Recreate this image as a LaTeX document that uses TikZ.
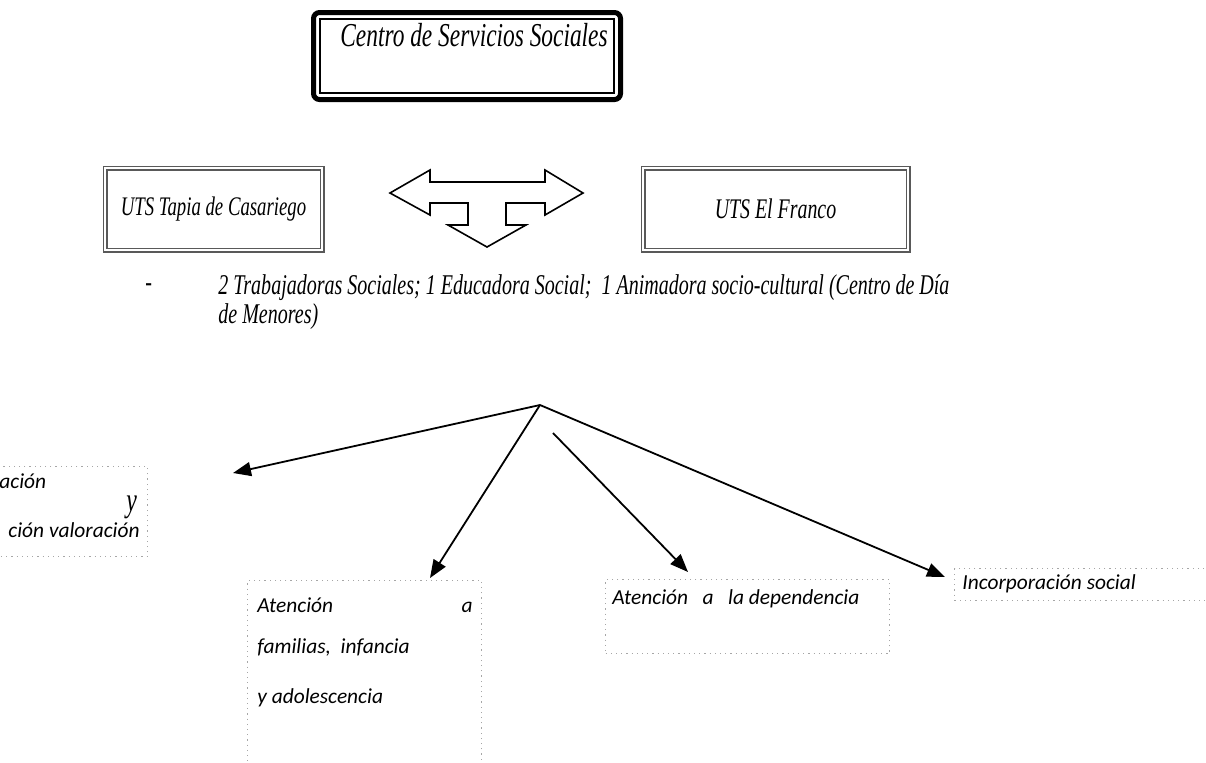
\documentclass[tikz,border=0pt]{standalone}
\usepackage{fontspec}
\setmainfont{Liberation Serif}
\newfontfamily\narrowserif[FakeStretch=0.7]{Liberation Serif}
\newfontfamily\boxfont{Carlito}
\usetikzlibrary{positioning,arrows.meta}

\tikzset{
  dotbox/.style={draw=gray!70, dotted, line width=0.6pt, inner sep=0pt, anchor=north west},
  boxlabel/.style={font=\boxfont\itshape\fontsize{10.7}{12}\selectfont, anchor=base west, inner sep=0pt},
  utsbox/.style={draw=black!65, double=white, double distance=1.3pt, line width=0.6pt,
    font=\narrowserif\itshape\fontsize{13.4}{15}\selectfont, inner sep=0pt},
  staff/.style={font=\narrowserif\itshape\fontsize{14.3}{16}\selectfont, anchor=base west, inner sep=0pt},
  branch/.style={-{Triangle[length=9pt,width=7pt]}, line width=0.9pt},
}

\begin{document}
\begin{tikzpicture}[x=0.5pt, y=-0.5pt]

\useasboundingbox (0,0) rectangle (1206,762);
\clip (0,0) rectangle (1206,762);
% centre
\node [draw, line width=2.5pt, rounded corners=3pt, minimum width=153.5pt, minimum height=43.5pt] (centre) at (467,56) {};
\node [draw, line width=0.7pt, minimum width=147pt, minimum height=37pt] (centrein) at (467,56) {};
\node [font=\narrowserif\itshape\fontsize{16.7}{18}\selectfont, anchor=base west, inner sep=0pt] (centretxt) at (340,46) {Centro de Servicios Sociales};
% UTS
\node [utsbox, minimum width=108.5pt, minimum height=41pt] (tapia) at (213.5,209) {UTS Tapia de Casariego};
\node [utsbox, minimum width=132.5pt, minimum height=41pt, font=\narrowserif\itshape\fontsize{14.2}{15}\selectfont] (franco) at (775.5,209) {UTS El Franco};
% triple arrow
\draw [line width=0.8pt, line join=miter] (390,193) -- (430,170) -- (430,182) -- (545,182) -- (545,170) -- (583,193)
  -- (545,215) -- (545,203) -- (506,203) -- (506,225) -- (526,225) -- (487,247) -- (448,225) -- (468,225)
  -- (468,203) -- (430,203) -- (430,215) -- cycle;
% staff
\node [staff] (dash) at (145,291) {-};
\node [staff] (staffa) at (218,294) {2 Trabajadoras Sociales; 1 Educadora Social;\ \ 1 Animadora socio-cultural (Centro de Día};
\node [staff] (staffb) at (218,323) {de Menores)};
% arrows
\coordinate (root) at (540,405);
\coordinate (tipa) at (233,473);
\coordinate (tipb) at (430,578);
\coordinate (startc) at (553,433);
\coordinate (tipc) at (688,572);
\coordinate (tipd) at (945,577);
\draw [branch] (root) -- (tipa);
\draw [branch] (root) -- (tipb);
\draw [branch] (startc) -- (tipc);
\draw [branch] (root) -- (tipd);
% boxes
\node [dotbox, minimum width=78.5pt, minimum height=45pt] (infobox) at (-10,466) {};
\node [dotbox, minimum width=117pt, minimum height=100pt] (famibox) at (247,580) {};
\node [dotbox, minimum width=142pt, minimum height=37pt] (depbox) at (605,579) {};
\node [dotbox, minimum width=135pt, minimum height=16pt] (incbox) at (954,568) {};
% writings
\node [boxlabel] (infoa) at (-1,488) {ación};
\node [font=\narrowserif\itshape\fontsize{17}{18}\selectfont, anchor=base west, inner sep=0pt] (infoy) at (126,511) {y};
\node [boxlabel, anchor=base east] (infob) at (140,537) {ción valoración};
\node [boxlabel] (famia) at (257,612) {Atención};
\node [boxlabel, anchor=base east] (famib) at (473,612) {a};
\node [boxlabel] (famic) at (257,653) {familias,\ \ infancia};
\node [boxlabel] (famid) at (257,703) {y adolescencia};
\node [boxlabel] (dep) at (612,604) {Atención\ \ \ a\ \ \ la dependencia};
\node [boxlabel] (inc) at (962,589) {Incorporación social};

\end{tikzpicture}
\end{document}
